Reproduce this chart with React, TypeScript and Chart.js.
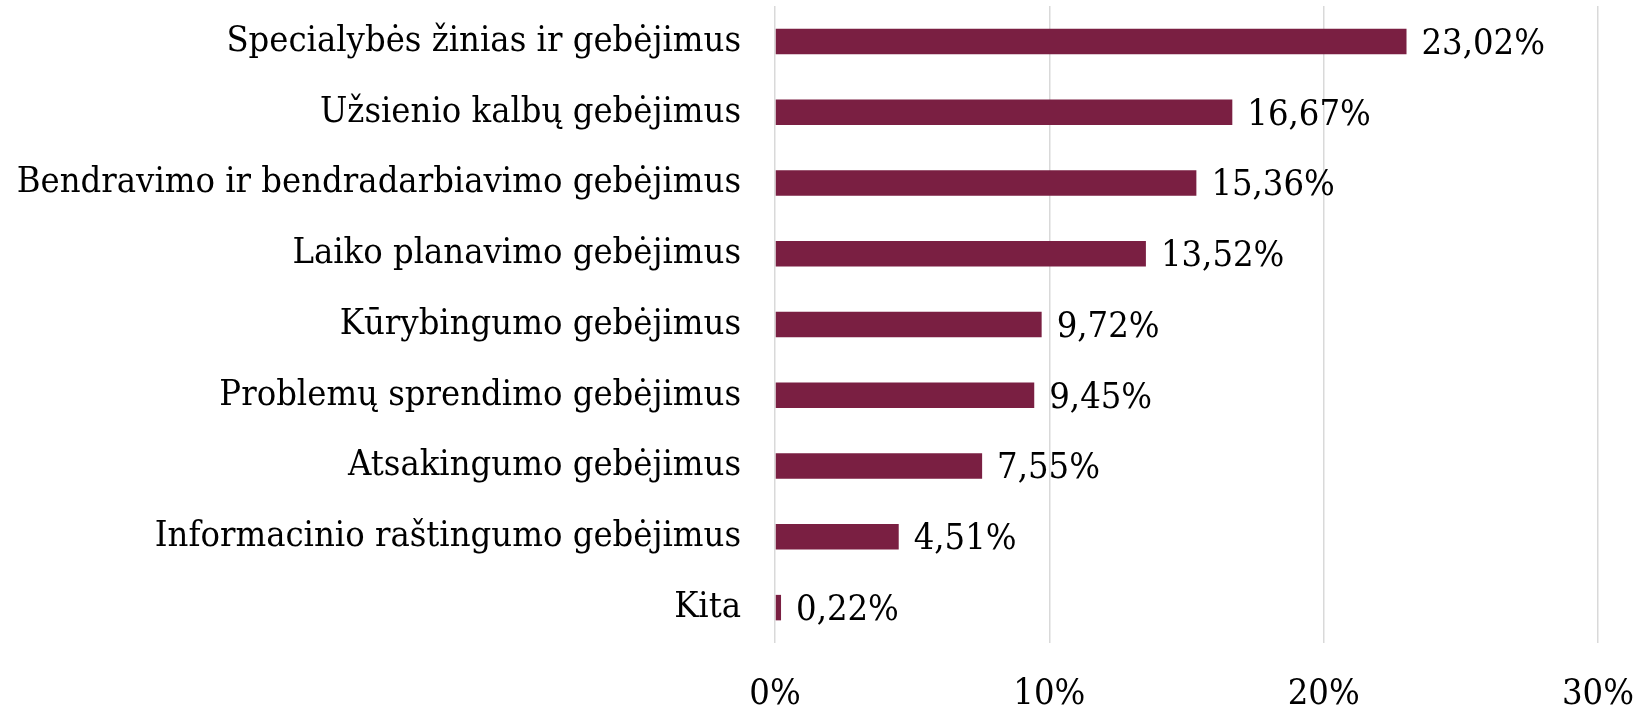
import React, { useEffect, useRef } from "react";
import { Chart, registerables } from "chart.js";

Chart.register(...registerables);

const categories: string[] = [
  "Specialybės žinias ir gebėjimus",
  "Užsienio kalbų gebėjimus",
  "Bendravimo ir bendradarbiavimo gebėjimus",
  "Laiko planavimo gebėjimus",
  "Kūrybingumo gebėjimus",
  "Problemų sprendimo gebėjimus",
  "Atsakingumo gebėjimus",
  "Informacinio raštingumo gebėjimus",
  "Kita",
];

const values: number[] = [23.02, 16.67, 15.36, 13.52, 9.72, 9.45, 7.55, 4.51, 0.22];

const xTicks: number[] = [0, 10, 20, 30];

const FONT = '"DejaVu Serif Condensed", "Liberation Serif", serif';
const FONT_SIZE = 36;
const BAR_COLOR = "#7a1f42";

const fmt = (v: number) => v.toFixed(2).replace(".", ",") + "%";

const valueLabelPlugin = {
  id: "valueLabels",
  afterDatasetsDraw(chart: any) {
    const { ctx } = chart;
    const meta = chart.getDatasetMeta(0);
    ctx.save();
    ctx.font = `${FONT_SIZE}px ${FONT}`;
    ctx.fillStyle = "#000";
    ctx.textAlign = "left";
    ctx.textBaseline = "middle";
    meta.data.forEach((bar: any, i: number) => {
      ctx.fillText(fmt(values[i]), bar.x + 15, bar.y + 3);
    });
    ctx.restore();
  },
};

export default function App() {
  const ref = useRef<HTMLCanvasElement | null>(null);

  useEffect(() => {
    document.body.style.margin = "0";
    if (!ref.current) return;
    const chart = new Chart(ref.current, {
      type: "bar",
      data: {
        labels: categories,
        datasets: [
          {
            data: values,
            backgroundColor: BAR_COLOR,
            borderWidth: 0,
            barPercentage: 0.36,
            categoryPercentage: 1,
          },
        ],
      },
      options: {
        indexAxis: "y",
        animation: false,
        responsive: true,
        maintainAspectRatio: false,
        layout: { padding: { top: 6, right: 50, bottom: 0, left: 0 } },
        plugins: {
          legend: { display: false },
          tooltip: { enabled: false },
        },
        scales: {
          x: {
            min: 0,
            max: 30,
            afterBuildTicks: (scale: any) => {
              scale.ticks = xTicks.map((v) => ({ value: v }));
            },
            afterFit: (scale: any) => {
              scale.height = 64;
              scale.paddingLeft = 0;
              scale.paddingRight = 0;
              scale.paddingTop = 0;
              scale.paddingBottom = 0;
            },
            grid: {
              display: true,
              color: "#d9d9d9",
              lineWidth: 1.5,
              drawTicks: false,
            },
            border: { display: false },
            ticks: {
              padding: 30,
              color: "#000",
              font: { family: FONT, size: FONT_SIZE },
              callback: (v: any) => `${v}%`,
            },
          },
          y: {
            afterFit: (scale: any) => {
              scale.width = 775;
              scale.paddingTop = 0;
              scale.paddingBottom = 0;
              scale.paddingLeft = 0;
              scale.paddingRight = 0;
            },
            grid: { display: false, drawTicks: false },
            border: { display: false },
            ticks: {
              padding: 34,
              color: "#000",
              font: { family: FONT, size: FONT_SIZE },
            },
          },
        },
      },
      plugins: [valueLabelPlugin],
    });
    return () => chart.destroy();
  }, []);

  return (
    <div style={{ position: "relative", width: "1648px", height: "707px" }}>
      <canvas ref={ref} />
    </div>
  );
}
